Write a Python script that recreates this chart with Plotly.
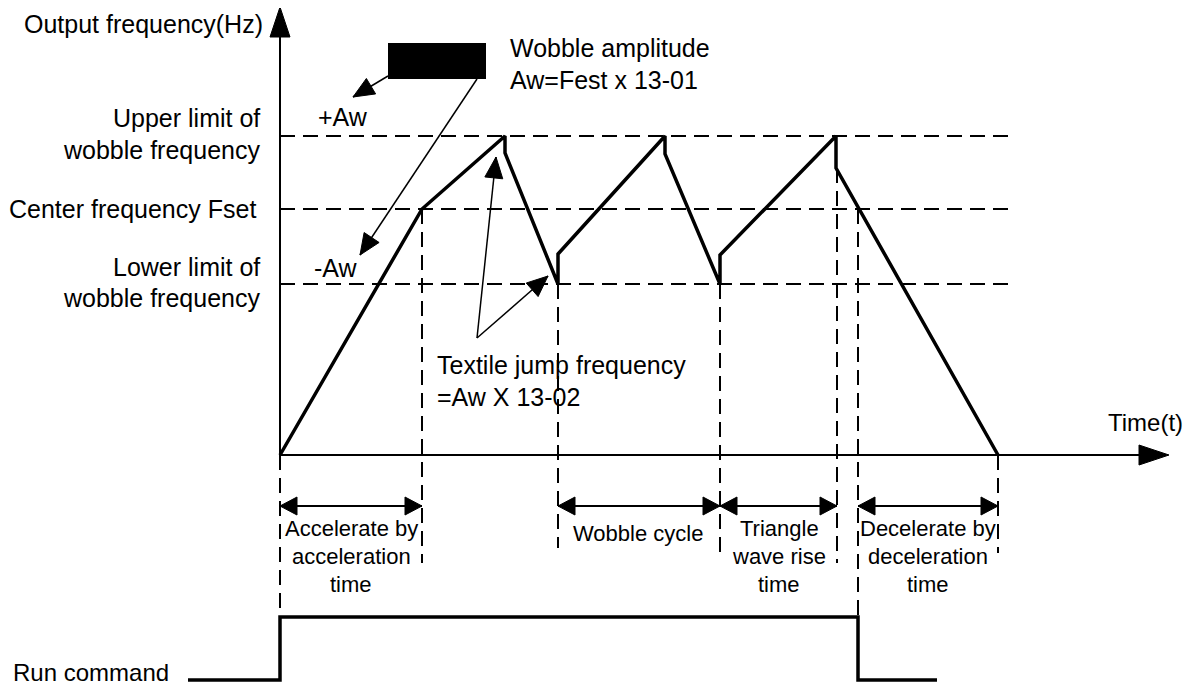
import plotly.graph_objects as go

W, H = 1195, 689
PAD = 8  # the page body adds an 8px margin
FONT = "Liberation Sans, Arial, sans-serif"

# frequency levels (pixel rows) and the time axis
level_upper = 136
level_center = 209
level_lower = 284
time_axis_y = 455
freq_axis_x = 280

# output frequency waveform
wave_x = [280, 422, 505, 505, 558, 558, 665, 665, 720, 720, 836, 836, 998]
wave_y = [455, 209, 136, 153, 284, 254, 136, 154, 284, 255, 136, 168, 455]

# run command signal
run_x = [188, 280, 280, 858, 858, 937]
run_y = [680, 680, 617, 617, 680, 680]

# vertical guide lines: x, top, bottom
guide_x = [280, 422, 558, 720, 837, 858, 998]
guide_top = [455, 209, 284, 284, 168, 209, 455]
guide_bot = [617, 563, 548, 553, 563, 617, 553]

# interval double arrows
span_start = [280, 558, 720, 858]
span_end = [422, 720, 837, 998]
span_y = 506

# pointer arrows: tail x, tail y, tip x, tip y
ptr_tail_x = [388, 477, 477, 477]
ptr_tail_y = [76, 79, 338, 338]
ptr_tip_x = [353, 360, 496, 548]
ptr_tip_y = [97, 255, 157, 276]

# texts
left_labels = ["Output frequency(Hz)", "Upper limit of", "wobble frequency",
               "Center frequency Fset", "Lower limit of", "wobble frequency"]
left_x = [265, 262, 262, 258, 262, 262]
left_y = [24, 118, 150, 209, 267, 298]

free_labels = ["+Aw", "-Aw", "Wobble amplitude", "Aw=Fest x 13-01",
               "Textile jump frequency", "=Aw X 13-02", "Time(t)", "Run command"]
free_x = [316, 312, 508, 508, 435, 435, 1106, 11]
free_y = [117, 268, 48, 80, 365, 397, 422, 672]
free_size = [25, 25, 25, 25, 25, 25, 24, 24]

span_labels = [["Accelerate by", "acceleration", "time"], ["Wobble cycle"],
               ["Triangle", "wave rise", "time"], ["Decelerate by", "deceleration", "time"]]
span_label_x = [351, 638, 779, 928]
span_label_y0 = [528, 533, 528, 528]
line_gap = 28


def head(tx, ty, sx, sy, length, half):
    dx, dy = tx - sx, ty - sy
    n = (dx * dx + dy * dy) ** 0.5
    ux, uy = dx / n, dy / n
    bx, by = tx - ux * length, ty - uy * length
    return ([tx, bx - uy * half, bx + uy * half, tx, None],
            [ty, by + ux * half, by - ux * half, ty, None])


fig = go.Figure()

# dashed horizontal levels
hx, hy = [], []
for lv in [level_upper, level_center, level_lower]:
    hx += [freq_axis_x, 1010, None]
    hy += [lv, lv, None]
fig.add_trace(go.Scatter(x=hx, y=hy, mode="lines",
                         line=dict(color="black", width=2, dash="15px,8px")))

# dashed vertical guides
vx, vy = [], []
for x, t, b in zip(guide_x, guide_top, guide_bot):
    vx += [x, x, None]
    vy += [t, b, None]
fig.add_trace(go.Scatter(x=vx, y=vy, mode="lines",
                         line=dict(color="black", width=2, dash="15px,8px")))

# axes
fig.add_trace(go.Scatter(x=[freq_axis_x, freq_axis_x, None, freq_axis_x, 1140],
                         y=[time_axis_y, 36, None, time_axis_y, time_axis_y],
                         mode="lines", line=dict(color="black", width=2)))

# waveform and run command
fig.add_trace(go.Scatter(x=wave_x, y=wave_y, mode="lines",
                         line=dict(color="black", width=3.5)))
fig.add_trace(go.Scatter(x=run_x, y=run_y, mode="lines",
                         line=dict(color="black", width=3.5)))

# interval arrows
sx, sy = [], []
for a, b in zip(span_start, span_end):
    sx += [a, b, None]
    sy += [span_y, span_y, None]
fig.add_trace(go.Scatter(x=sx, y=sy, mode="lines", line=dict(color="black", width=2)))

# pointer arrows (thin lines)
px, py = [], []
for a, b, c, d in zip(ptr_tail_x, ptr_tail_y, ptr_tip_x, ptr_tip_y):
    px += [a, c, None]
    py += [b, d, None]
fig.add_trace(go.Scatter(x=px, y=py, mode="lines", line=dict(color="black", width=1.5)))

# arrow heads
ax_, ay_ = [], []
for hx_, hy_ in [head(freq_axis_x, 7, freq_axis_x, 100, 30, 10),
                 head(1169, time_axis_y, 1000, time_axis_y, 30, 10)]:
    ax_ += hx_
    ay_ += hy_
for a, b in zip(span_start, span_end):
    for hx_, hy_ in [head(a, span_y, b, span_y, 17, 9), head(b, span_y, a, span_y, 17, 9)]:
        ax_ += hx_
        ay_ += hy_
for a, b, c, d in zip(ptr_tail_x, ptr_tail_y, ptr_tip_x, ptr_tip_y):
    hx_, hy_ = head(c, d, a, b, 21, 9)
    ax_ += hx_
    ay_ += hy_
fig.add_trace(go.Scatter(x=ax_, y=ay_, mode="lines", fill="toself", fillcolor="black",
                         line=dict(color="black", width=1)))

# black box for wobble amplitude
fig.add_shape(type="rect", x0=388, x1=486, y0=43, y1=79, fillcolor="black",
              line=dict(color="black", width=0))

for t, x, y in zip(left_labels, left_x, left_y):
    fig.add_annotation(x=x, y=y, text=t, showarrow=False, xanchor="right", yanchor="middle",
                       font=dict(family=FONT, size=25, color="black"))
for t, x, y, s in zip(free_labels, free_x, free_y, free_size):
    fig.add_annotation(x=x, y=y, text=t, showarrow=False, xanchor="left", yanchor="middle",
                       font=dict(family=FONT, size=s, color="black"))
for lines, x, y0 in zip(span_labels, span_label_x, span_label_y0):
    for i, t in enumerate(lines):
        fig.add_annotation(x=x, y=y0 + i * line_gap, text=t, showarrow=False,
                           xanchor="center", yanchor="middle",
                           font=dict(family=FONT, size=22, color="black"))

fig.update_layout(
    width=W - 2 * PAD, height=H - PAD,
    margin=dict(l=0, r=0, t=0, b=0),
    paper_bgcolor="white", plot_bgcolor="white",
    showlegend=False,
    xaxis=dict(range=[PAD, W - PAD], visible=False, fixedrange=True),
    yaxis=dict(range=[H, PAD], visible=False, fixedrange=True),
)

fig.write_html("out.html")
